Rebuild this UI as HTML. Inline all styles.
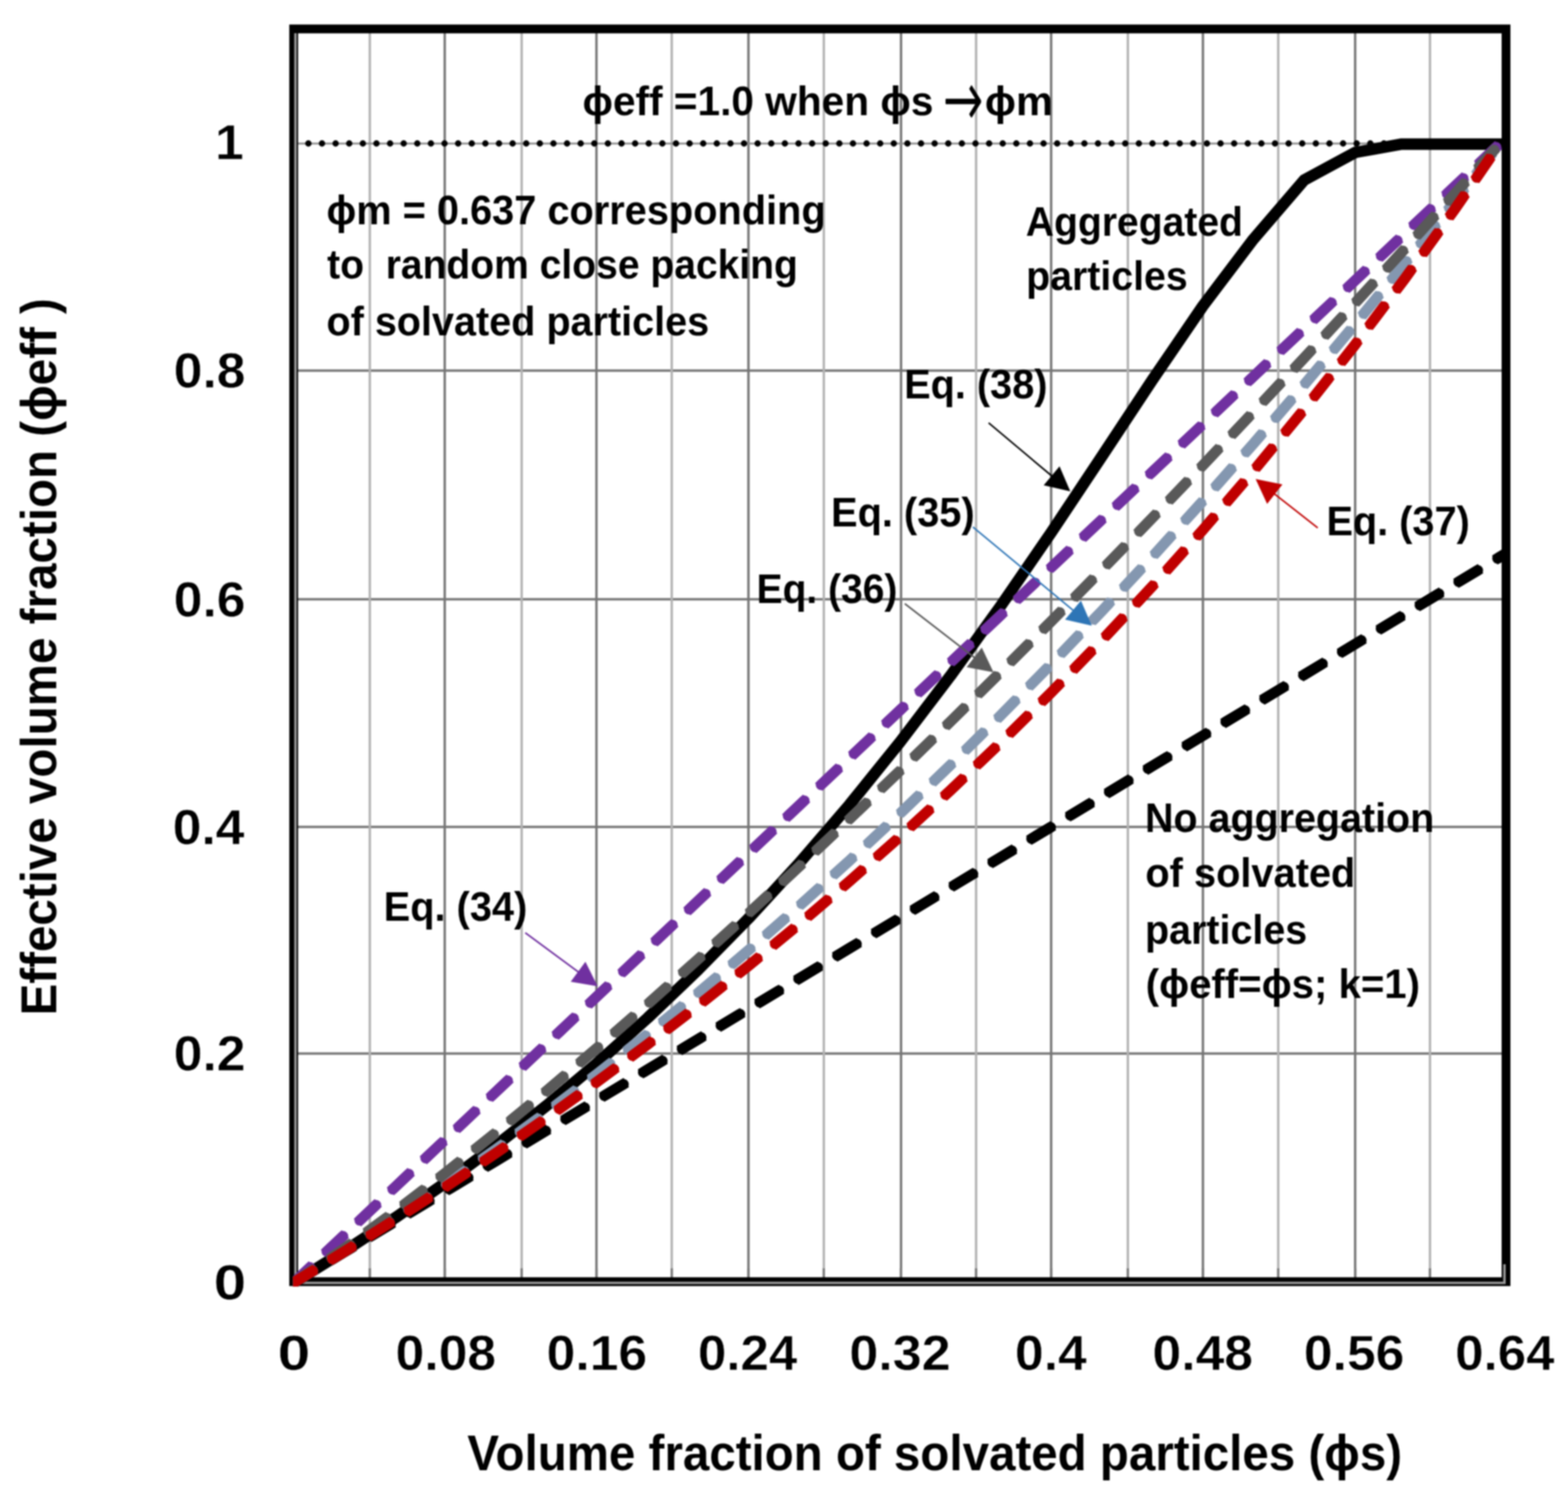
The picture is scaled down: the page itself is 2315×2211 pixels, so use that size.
<!DOCTYPE html>
<html lang="en"><head><meta charset="utf-8"><title>Chart</title>
<style>
html,body{margin:0;padding:0;background:#fff;}
body{width:2315px;height:2211px;overflow:hidden;}
svg{display:block;filter:blur(1.1px);}
text{font-family:"Liberation Sans",sans-serif;font-weight:bold;fill:#000;stroke:none;stroke-linejoin:round;white-space:pre;}
.tk{font-size:71.6px;stroke:#fff;stroke-width:0.6px;}
.an{font-size:62px;}
.tt{font-size:73.4px;}
.c{fill:none;stroke-width:15.6;stroke-linejoin:round;}
.cr{stroke-linecap:round;stroke-dasharray:32.9 34;stroke-dashoffset:0.95;}
.cb{stroke-linecap:butt;stroke-dasharray:42.5 24.4;stroke-dashoffset:5.75;}
.ar{font-family:"DejaVu Sans Light","DejaVu Sans","Liberation Sans",sans-serif;font-size:112px;font-weight:normal;stroke:#000;stroke-width:2.6px;}
</style></head><body>
<svg width="2315" height="2211" viewBox="0 0 2315 2211">
<rect x="0" y="0" width="2315" height="2211" fill="#fff"/>
<g id="grid" fill="none" stroke-width="3.5">
<line x1="437" y1="547" x2="2217" y2="547" stroke="#757575"/>
<line x1="437" y1="884.6" x2="2217" y2="884.6" stroke="#757575"/>
<line x1="437" y1="1220.5" x2="2217" y2="1220.5" stroke="#757575"/>
<line x1="437" y1="1555" x2="2217" y2="1555" stroke="#757575"/>
<line x1="546" y1="49" x2="546" y2="1894" stroke="#b2b2b2"/>
<line x1="656.6" y1="49" x2="656.6" y2="1894" stroke="#757575"/>
<line x1="770.2" y1="49" x2="770.2" y2="1894" stroke="#b2b2b2"/>
<line x1="880.6" y1="49" x2="880.6" y2="1894" stroke="#757575"/>
<line x1="991.75" y1="49" x2="991.75" y2="1894" stroke="#b2b2b2"/>
<line x1="1105" y1="49" x2="1105" y2="1894" stroke="#757575"/>
<line x1="1216.3" y1="49" x2="1216.3" y2="1894" stroke="#b2b2b2"/>
<line x1="1330.3" y1="49" x2="1330.3" y2="1894" stroke="#757575"/>
<line x1="1441.1" y1="49" x2="1441.1" y2="1894" stroke="#b2b2b2"/>
<line x1="1551.9" y1="49" x2="1551.9" y2="1894" stroke="#757575"/>
<line x1="1665.2" y1="49" x2="1665.2" y2="1894" stroke="#b2b2b2"/>
<line x1="1776" y1="49" x2="1776" y2="1894" stroke="#757575"/>
<line x1="1887.2" y1="49" x2="1887.2" y2="1894" stroke="#b2b2b2"/>
<line x1="2000.75" y1="49" x2="2000.75" y2="1894" stroke="#757575"/>
<line x1="2111.25" y1="49" x2="2111.25" y2="1894" stroke="#b2b2b2"/>
</g>
<g id="ticks" stroke="#7a7a7a" stroke-width="3.4">
<line x1="546" y1="1872" x2="546" y2="1894"/>
<line x1="656.6" y1="1872" x2="656.6" y2="1894"/>
<line x1="770.2" y1="1872" x2="770.2" y2="1894"/>
<line x1="880.6" y1="1872" x2="880.6" y2="1894"/>
<line x1="991.75" y1="1872" x2="991.75" y2="1894"/>
<line x1="1105" y1="1872" x2="1105" y2="1894"/>
<line x1="1216.3" y1="1872" x2="1216.3" y2="1894"/>
<line x1="1330.3" y1="1872" x2="1330.3" y2="1894"/>
<line x1="1441.1" y1="1872" x2="1441.1" y2="1894"/>
<line x1="1551.9" y1="1872" x2="1551.9" y2="1894"/>
<line x1="1665.2" y1="1872" x2="1665.2" y2="1894"/>
<line x1="1776" y1="1872" x2="1776" y2="1894"/>
<line x1="1887.2" y1="1872" x2="1887.2" y2="1894"/>
<line x1="2000.75" y1="1872" x2="2000.75" y2="1894"/>
<line x1="2111.25" y1="1872" x2="2111.25" y2="1894"/>
</g>
<line x1="438" y1="211.8" x2="2111.2" y2="211.8" stroke="#8c8c8c" stroke-width="2.8"/>
<line x1="435.2" y1="211.8" x2="2111.2" y2="211.8" stroke="#000" stroke-width="9.4" stroke-linecap="round" stroke-dasharray="0.01 20.09"/>
<rect x="433.6" y="42.7" width="1789.9" height="1849" fill="none" stroke="#000" stroke-width="13"/>
<line x1="436.2" y1="49" x2="436.2" y2="1895" stroke="#9a9a9a" stroke-width="3.6"/>
<line x1="434.6" y1="1893.5" x2="2223" y2="1893.5" stroke="#9a9a9a" stroke-width="3.6"/>
<line x1="2221.2" y1="1866" x2="2221.2" y2="1895" stroke="#9a9a9a" stroke-width="3.6"/>
<clipPath id="pc"><rect x="432.5" y="30" width="1797" height="1869"/></clipPath>
<g id="curves" clip-path="url(#pc)">
<path fill="none" stroke="#000" stroke-width="17" stroke-linejoin="round" stroke-linecap="butt" d="M434.50 1892.50 L509.02 1846.37 L583.54 1797.47 L658.06 1745.57 L732.58 1690.41 L807.10 1631.72 L881.63 1569.19 L956.15 1502.52 L1030.67 1431.36 L1105.19 1355.39 L1179.71 1274.26 L1254.23 1187.67 L1328.75 1095.42 L1403.27 997.43 L1477.79 893.89 L1552.31 785.47 L1626.83 673.57 L1701.36 560.80 L1775.88 451.66 L1850.40 353.23 L1925.5 265.7 L2000.9 225 L2068.1 212.8 L2218.5 212.8"/>
<path class="c cr" stroke="#000" d="M434.50 1892.50 L509.02 1847.69 L583.54 1802.87 L658.06 1758.06 L732.58 1713.24 L807.10 1668.43 L881.63 1623.62 L956.15 1578.80 L1030.67 1533.99 L1105.19 1489.17 L1179.71 1444.36 L1254.23 1399.55 L1328.75 1354.73 L1403.27 1309.92 L1477.79 1265.11 L1552.31 1220.29 L1626.83 1175.48 L1701.36 1130.66 L1775.88 1085.85 L1850.40 1041.04 L1924.92 996.22 L1999.44 951.41 L2073.96 906.59 L2148.48 861.78 L2214.60 822.02 L2222.98 816.98"/>
<path class="c cb" stroke="#000" d="M434.50 1892.50 L509.02 1847.69 L583.54 1802.87 L658.06 1758.06 L732.58 1713.24 L807.10 1668.43 L881.63 1623.62 L956.15 1578.80 L1030.67 1533.99 L1105.19 1489.17 L1179.71 1444.36 L1254.23 1399.55 L1328.75 1354.73 L1403.27 1309.92 L1477.79 1265.11 L1552.31 1220.29 L1626.83 1175.48 L1701.36 1130.66 L1775.88 1085.85 L1850.40 1041.04 L1924.92 996.22 L1999.44 951.41 L2073.96 906.59 L2148.48 861.78 L2214.60 822.02 L2222.98 816.98"/>
<path class="c cr" stroke="#7030a0" d="M434.50 1892.50 L509.02 1822.15 L583.54 1751.80 L658.06 1681.45 L732.58 1611.09 L807.10 1540.74 L881.63 1470.39 L956.15 1400.04 L1030.67 1329.69 L1105.19 1259.34 L1179.71 1188.99 L1254.23 1118.63 L1328.75 1048.28 L1403.27 977.93 L1477.79 907.58 L1552.31 837.23 L1626.83 766.88 L1701.36 696.52 L1775.88 626.17 L1850.40 555.82 L1924.92 485.47 L1999.44 415.12 L2073.96 344.77 L2148.48 274.42 L2214.60 212.00"/>
<path class="c cb" stroke="#7030a0" d="M434.50 1892.50 L509.02 1822.15 L583.54 1751.80 L658.06 1681.45 L732.58 1611.09 L807.10 1540.74 L881.63 1470.39 L956.15 1400.04 L1030.67 1329.69 L1105.19 1259.34 L1179.71 1188.99 L1254.23 1118.63 L1328.75 1048.28 L1403.27 977.93 L1477.79 907.58 L1552.31 837.23 L1626.83 766.88 L1701.36 696.52 L1775.88 626.17 L1850.40 555.82 L1924.92 485.47 L1999.44 415.12 L2073.96 344.77 L2148.48 274.42 L2214.60 212.00"/>
<path class="c cr" stroke="#8497b0" d="M434.50 1892.50 L509.02 1846.62 L583.54 1798.60 L658.06 1748.44 L732.58 1696.14 L807.10 1641.70 L881.63 1585.13 L956.15 1526.42 L1030.67 1465.57 L1105.19 1402.58 L1179.71 1337.45 L1254.23 1270.19 L1328.75 1200.78 L1403.27 1129.24 L1477.79 1055.56 L1552.31 979.75 L1626.83 901.79 L1701.36 821.70 L1775.88 739.46 L1850.40 655.09 L1924.92 568.59 L1999.44 479.94 L2073.96 389.15 L2148.48 296.23 L2214.60 212.00"/>
<path class="c cb" stroke="#8497b0" d="M434.50 1892.50 L509.02 1846.62 L583.54 1798.60 L658.06 1748.44 L732.58 1696.14 L807.10 1641.70 L881.63 1585.13 L956.15 1526.42 L1030.67 1465.57 L1105.19 1402.58 L1179.71 1337.45 L1254.23 1270.19 L1328.75 1200.78 L1403.27 1129.24 L1477.79 1055.56 L1552.31 979.75 L1626.83 901.79 L1701.36 821.70 L1775.88 739.46 L1850.40 655.09 L1924.92 568.59 L1999.44 479.94 L2073.96 389.15 L2148.48 296.23 L2214.60 212.00"/>
<path class="c cr" stroke="#595959" d="M434.50 1892.50 L509.02 1842.46 L583.54 1788.09 L658.06 1730.91 L732.58 1671.44 L807.10 1610.01 L881.63 1546.82 L956.15 1482.03 L1030.67 1415.76 L1105.19 1348.10 L1179.71 1279.13 L1254.23 1208.92 L1328.75 1137.53 L1403.27 1065.01 L1477.79 991.40 L1552.31 916.74 L1626.83 841.07 L1701.36 764.42 L1775.88 686.82 L1850.40 608.30 L1924.92 528.87 L1999.44 448.57 L2073.96 367.42 L2148.48 285.43 L2214.60 212.00"/>
<path class="c cb" stroke="#595959" d="M434.50 1892.50 L509.02 1842.46 L583.54 1788.09 L658.06 1730.91 L732.58 1671.44 L807.10 1610.01 L881.63 1546.82 L956.15 1482.03 L1030.67 1415.76 L1105.19 1348.10 L1179.71 1279.13 L1254.23 1208.92 L1328.75 1137.53 L1403.27 1065.01 L1477.79 991.40 L1552.31 916.74 L1626.83 841.07 L1701.36 764.42 L1775.88 686.82 L1850.40 608.30 L1924.92 528.87 L1999.44 448.57 L2073.96 367.42 L2148.48 285.43 L2214.60 212.00"/>
<path class="c cr" stroke="#c00000" d="M434.50 1892.50 L509.02 1846.99 L583.54 1800.06 L658.06 1751.64 L732.58 1701.64 L807.10 1650.01 L881.63 1596.64 L956.15 1541.46 L1030.67 1484.37 L1105.19 1425.27 L1179.71 1364.06 L1254.23 1300.61 L1328.75 1234.80 L1403.27 1166.49 L1477.79 1095.56 L1552.31 1021.82 L1626.83 945.13 L1701.36 865.30 L1775.88 782.12 L1850.40 695.39 L1924.92 604.88 L1999.44 510.32 L2073.96 411.45 L2148.48 307.95 L2214.60 212.00"/>
<path class="c cb" stroke="#c00000" d="M434.50 1892.50 L509.02 1846.99 L583.54 1800.06 L658.06 1751.64 L732.58 1701.64 L807.10 1650.01 L881.63 1596.64 L956.15 1541.46 L1030.67 1484.37 L1105.19 1425.27 L1179.71 1364.06 L1254.23 1300.61 L1328.75 1234.80 L1403.27 1166.49 L1477.79 1095.56 L1552.31 1021.82 L1626.83 945.13 L1701.36 865.30 L1775.88 782.12 L1850.40 695.39 L1924.92 604.88 L1999.44 510.32 L2073.96 411.45 L2148.48 307.95 L2214.60 212.00"/>
</g>
<g id="arrows">
<line x1="1459.6" y1="624.2" x2="1554.1" y2="703.5" stroke="#000" stroke-width="2.3"/>
<polygon points="1580.2,725.3 1540.9,716.2 1564.3,688.2" fill="#000"/>
<line x1="1436.4" y1="777.8" x2="1585.7" y2="901.9" stroke="#2e75b6" stroke-width="2.3"/>
<polygon points="1611.9,923.6 1572.5,914.6 1595.9,886.6" fill="#2e75b6"/>
<line x1="1335.8" y1="891.0" x2="1439.9" y2="971.5" stroke="#595959" stroke-width="2.3"/>
<polygon points="1466.8,992.3 1427.2,984.7 1449.5,955.8" fill="#595959"/>
<line x1="1945.5" y1="779.1" x2="1880.5" y2="728.1" stroke="#c00000" stroke-width="2.3"/>
<polygon points="1853.8,707.1 1893.4,715.0 1870.8,743.7" fill="#c00000"/>
<line x1="775.5" y1="1376.7" x2="855.1" y2="1435.5" stroke="#7030a0" stroke-width="2.3"/>
<polygon points="882.4,1455.7 842.6,1449.0 864.3,1419.6" fill="#7030a0"/>
</g>
<g id="labels">
<text class="tk" x="317.50" y="234.60" textLength="42.50" lengthAdjust="spacingAndGlyphs">1</text>
<text class="tk" x="256.50" y="572.10" textLength="106.00" lengthAdjust="spacingAndGlyphs">0.8</text>
<text class="tk" x="256.50" y="909.60" textLength="106.00" lengthAdjust="spacingAndGlyphs">0.6</text>
<text class="tk" x="255.00" y="1245.50" textLength="106.00" lengthAdjust="spacingAndGlyphs">0.4</text>
<text class="tk" x="256.50" y="1580.00" textLength="106.00" lengthAdjust="spacingAndGlyphs">0.2</text>
<text class="tk" x="315.50" y="1918.00" textLength="48.00" lengthAdjust="spacingAndGlyphs">0</text>
<text class="tk" x="410.00" y="2022.30" textLength="48.00" lengthAdjust="spacingAndGlyphs">0</text>
<text class="tk" x="584.00" y="2022.30" textLength="148.50" lengthAdjust="spacingAndGlyphs">0.08</text>
<text class="tk" x="807.00" y="2022.30" textLength="148.50" lengthAdjust="spacingAndGlyphs">0.16</text>
<text class="tk" x="1030.50" y="2022.30" textLength="146.50" lengthAdjust="spacingAndGlyphs">0.24</text>
<text class="tk" x="1254.00" y="2022.30" textLength="149.50" lengthAdjust="spacingAndGlyphs">0.32</text>
<text class="tk" x="1498.50" y="2022.30" textLength="106.00" lengthAdjust="spacingAndGlyphs">0.4</text>
<text class="tk" x="1701.50" y="2022.30" textLength="148.50" lengthAdjust="spacingAndGlyphs">0.48</text>
<text class="tk" x="1925.00" y="2022.30" textLength="148.50" lengthAdjust="spacingAndGlyphs">0.56</text>
<text class="tk" x="2148.50" y="2022.30" textLength="146.50" lengthAdjust="spacingAndGlyphs">0.64</text>
<text class="tt" x="690.00" y="2169.50" textLength="1380.00" lengthAdjust="spacingAndGlyphs">Volume fraction of solvated particles (ϕs)</text>
<text class="tt" transform="translate(82.50 1498.75) rotate(-90)" x="0" y="0" textLength="1058.75" lengthAdjust="spacingAndGlyphs">Effective volume fraction (ϕeff )</text>
<text class="an" x="860.00" y="169.90" textLength="518.00" lengthAdjust="spacingAndGlyphs">ϕeff =1.0 when ϕs</text>
<text class="ar" transform="translate(1393.00 184.9) scale(0.6200 1)" x="0" y="0">→</text>
<text class="an" x="1454.00" y="169.90" textLength="100.50" lengthAdjust="spacingAndGlyphs">ϕm</text>
<text class="an" x="482.00" y="330.70" textLength="737.00" lengthAdjust="spacingAndGlyphs">ϕm = 0.637 corresponding</text>
<text class="an" x="483.00" y="410.70" textLength="695.00" lengthAdjust="spacingAndGlyphs">to  random close packing</text>
<text class="an" x="482.00" y="494.80" textLength="565.00" lengthAdjust="spacingAndGlyphs">of solvated particles</text>
<text class="an" x="1514.50" y="347.50" textLength="320.50" lengthAdjust="spacingAndGlyphs">Aggregated</text>
<text class="an" x="1515.00" y="427.90" textLength="238.50" lengthAdjust="spacingAndGlyphs">particles</text>
<text class="an" x="1335.00" y="588.40" textLength="211.50" lengthAdjust="spacingAndGlyphs">Eq. (38)</text>
<text class="an" x="1227.00" y="776.50" textLength="212.00" lengthAdjust="spacingAndGlyphs">Eq. (35)</text>
<text class="an" x="1117.00" y="890.10" textLength="208.00" lengthAdjust="spacingAndGlyphs">Eq. (36)</text>
<text class="an" x="1958.50" y="789.60" textLength="211.50" lengthAdjust="spacingAndGlyphs">Eq. (37)</text>
<text class="an" x="566.50" y="1359.40" textLength="212.00" lengthAdjust="spacingAndGlyphs">Eq. (34)</text>
<text class="an" x="1690.50" y="1228.40" textLength="427.00" lengthAdjust="spacingAndGlyphs">No aggregation</text>
<text class="an" x="1691.00" y="1308.90" textLength="310.00" lengthAdjust="spacingAndGlyphs">of solvated</text>
<text class="an" x="1690.50" y="1392.70" textLength="239.50" lengthAdjust="spacingAndGlyphs">particles</text>
<text class="an" x="1691.50" y="1472.70" textLength="405.00" lengthAdjust="spacingAndGlyphs">(ϕeff=ϕs; k=1)</text>
</g>
</svg></body></html>
